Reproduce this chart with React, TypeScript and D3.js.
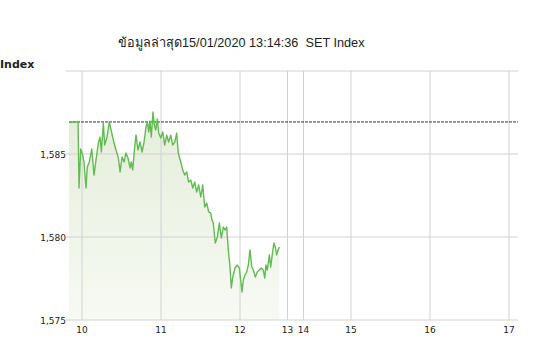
import * as d3 from 'd3';

// ── Data ──

const TITLE = 'ข้อมูลล่าสุด15/01/2020 13:14:36  SET Index';
const PREV_CLOSE = 1586.93;

// minutes after 10:00
const MINUTES = [
  -9.9, -3.0, -2.3, -1.0, 0.5, 1.5, 3.0, 4.0, 5.5, 7.4, 9.1, 10.6, 12.4, 13.7, 14.7,
  16.2, 17.2, 18.8, 20.7, 22.6, 24.3, 25.8, 27.6, 28.9, 30.4, 31.9, 33.4, 34.9, 36.5,
  37.4, 38.5, 40.0, 41.0, 42.5, 44.1, 45.6, 47.1, 48.6, 49.6, 50.7, 51.6, 52.6, 53.9,
  54.9, 56.0, 57.2, 58.3, 59.8, 61.3, 62.8, 64.3, 65.8, 67.4, 68.9, 70.4, 71.9, 73.1,
  75.0, 76.5, 78.0, 79.5, 81.0, 82.6, 84.1, 85.6, 87.1, 88.6, 90.2, 91.7, 93.2, 94.7,
  96.2, 97.7, 98.7, 99.7, 101.2, 102.8, 104.3, 105.8, 107.3, 108.8, 109.9, 111.1,
  112.4, 113.4, 114.5, 116.2, 117.9, 119.5, 120.5, 121.5, 122.5, 123.8, 125.1, 126.3,
  127.6, 128.9, 130.1, 131.6, 133.1, 134.7, 136.2, 137.7, 138.8, 139.7, 140.7, 142.3,
  143.3, 144.8, 145.8, 146.8, 147.9, 148.9, 149.9,
];

const VALUES = [
  1586.93, 1586.93, 1582.95, 1585.3, 1584.94, 1584.52, 1582.95, 1584.22, 1584.52,
  1585.3, 1583.73, 1584.64, 1585.66, 1586.02, 1585.12, 1586.87, 1585.54, 1585.96,
  1586.93, 1586.26, 1585.66, 1585.24, 1584.76, 1583.92, 1584.82, 1584.52, 1585.06,
  1584.76, 1584.16, 1584.52, 1584.04, 1585.42, 1586.14, 1585.24, 1585.72, 1585.12,
  1585.72, 1586.63, 1586.93, 1586.33, 1586.99, 1586.02, 1587.53, 1586.75, 1586.45,
  1587.11, 1586.26, 1585.96, 1586.33, 1585.54, 1586.14, 1585.72, 1586.14, 1585.54,
  1585.72, 1586.26, 1585.06, 1584.52, 1584.04, 1583.73, 1583.92, 1583.31, 1583.43,
  1582.95, 1583.31, 1582.71, 1583.13, 1582.41, 1583.13, 1581.81, 1582.05, 1581.51,
  1581.45, 1581.02, 1580.84, 1579.64, 1580.0, 1580.84, 1579.94, 1580.6, 1580.42,
  1580.6, 1579.22, 1578.19, 1576.93, 1577.59, 1578.13, 1578.31, 1578.13, 1577.41,
  1576.69, 1577.41, 1577.71, 1577.89, 1578.31, 1579.22, 1578.19, 1578.01, 1577.59,
  1577.89, 1578.01, 1578.13, 1578.01, 1577.53, 1578.31, 1578.01, 1578.92, 1578.19,
  1579.1, 1579.64, 1579.4, 1578.92, 1579.22, 1579.4,
];

const X_TICKS = [10, 11, 12, 13, 14, 15, 16, 17];
const Y_TICKS = [1575, 1580, 1585, 1590];

// ── Layout ──

const W = 545;
const H = 363;
const LEFT = 69;
const RIGHT = 518;
const TOP = 71;
const BOTTOM = 320;

// lunch break 12:30–14:30 squeezed
const x = d3
  .scaleLinear()
  .domain([9.835, 12.5, 14.5, 17.114])
  .range([LEFT, 279.5, 311.5, RIGHT]);

const y = d3.scaleLinear().domain([1575, 1590]).range([BOTTOM, TOP]);

const fmt = d3.format(',');

interface Pt {
  h: number;
  v: number;
}

const points: Pt[] = MINUTES.map((m, i) => ({ h: 10 + m / 60, v: VALUES[i] }));

const linePath = d3
  .line<Pt>()
  .x((d) => x(d.h))
  .y((d) => y(d.v))(points);

const areaPath = d3
  .area<Pt>()
  .x((d) => x(d.h))
  .y0(y(1575))
  .y1((d) => y(d.v))(points);

export default function App() {
  const tickFont = 'DejaVu Sans, Verdana, sans-serif';
  return (
    <div style={{ position: 'absolute', left: 0, top: 0, background: '#fff' }}>
      <svg width={W} height={H} style={{ display: 'block' }}>
        <defs>
          <linearGradient id="fillGrad" gradientUnits="userSpaceOnUse" x1={0} y1={TOP} x2={0} y2={BOTTOM}>
            <stop offset="0" stopColor="#e1ebd5" />
            <stop offset="1" stopColor="#f7faf3" />
          </linearGradient>
        </defs>

        <text
          x={118}
          y={47}
          fontFamily="Liberation Sans, Arial, sans-serif"
          fontSize={12.7}
          fill="#222"
          style={{ whiteSpace: 'pre' }}
        >
          {TITLE}
        </text>

        <text x={0} y={68} fontFamily={tickFont} fontSize={11} fontWeight="bold" fill="#222">
          Index
        </text>

        {/* area under the line */}
        <path d={areaPath ?? ''} fill="url(#fillGrad)" />

        {/* horizontal grid */}
        {Y_TICKS.map((t) => (
          <line key={'h' + t} x1={LEFT - 3} x2={RIGHT} y1={y(t)} y2={y(t)} stroke="#d2d2d2" strokeWidth={1} />
        ))}

        {/* vertical grid */}
        {X_TICKS.map((t) => (
          <line key={'v' + t} x1={x(t)} x2={x(t)} y1={TOP} y2={BOTTOM} stroke="#d2d2d2" strokeWidth={1} />
        ))}

        {/* previous close */}
        <line
          x1={LEFT}
          x2={RIGHT}
          y1={y(PREV_CLOSE)}
          y2={y(PREV_CLOSE)}
          stroke="#333"
          strokeWidth={1}
          strokeDasharray="3,1"
        />

        <path d={linePath ?? ''} fill="none" stroke="#62bb52" strokeWidth={1.4} strokeLinejoin="round" />

        {/* y labels */}
        {Y_TICKS.filter((t) => t < 1590).map((t) => (
          <text
            key={'yl' + t}
            x={LEFT - 3}
            y={y(t) + 3.5}
            textAnchor="end"
            fontFamily={tickFont}
            fontSize={9}
            fill="#222"
          >
            {fmt(t)}
          </text>
        ))}

        {/* x labels */}
        {X_TICKS.map((t) => (
          <text
            key={'xl' + t}
            x={x(t)}
            y={BOTTOM + 13}
            textAnchor="middle"
            fontFamily={tickFont}
            fontSize={9}
            fill="#222"
          >
            {t}
          </text>
        ))}
      </svg>
    </div>
  );
}
